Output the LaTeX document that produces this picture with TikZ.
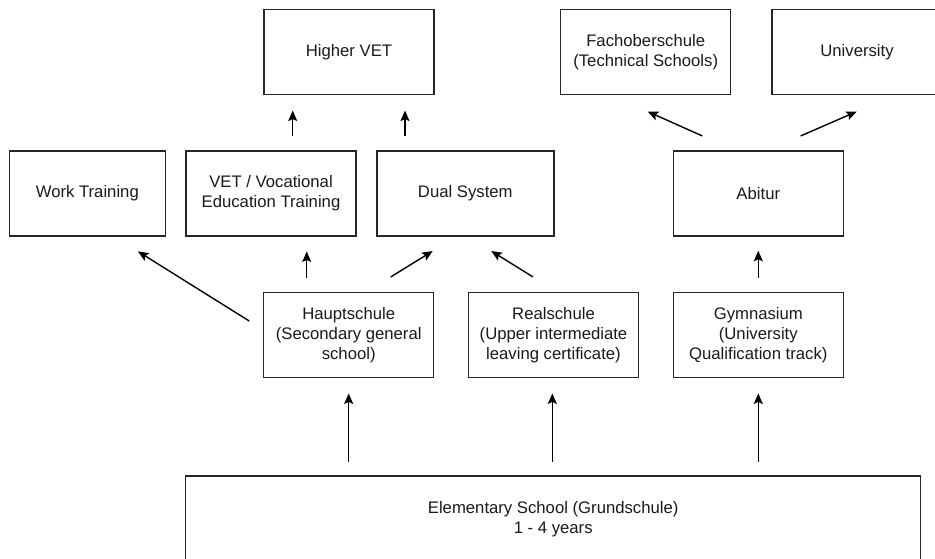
\documentclass[tikz,border=0pt]{standalone}
\usepackage{fontspec}
\setmainfont{Liberation Sans}
\usetikzlibrary{arrows.meta,calc}
\definecolor{boxline}{HTML}{262626}
\definecolor{txt}{HTML}{1A1A1A}
\tikzset{
  box/.style={draw=boxline, line width=1.5pt, rectangle, align=center, inner sep=0pt,
    minimum width=170pt, minimum height=85pt, text=txt,
    font=\fontsize{16.7pt}{20pt}\selectfont},
  arr/.style={draw=black, line width=1.4pt, -{Stealth[length=10.5pt,width=9pt,inset=2pt]}}
}
\begin{document}
\begin{tikzpicture}[x=1pt,y=-1pt]
\useasboundingbox[fill=white] (0,0) rectangle (935,559);
\begin{scope}
\clip (0,0) rectangle (935,559);
% top row
\node[box] (hvet) at (349,52) {Higher VET};
\node[box] (fach) at (645.7,52) {Fachoberschule\\(Technical Schools)};
\node[box] (uni) at (857,52) {University};
% middle row
\node[box, minimum width=156pt] (work) at (87.3,193.5) {Work Training};
\node[box] (vet) at (271,193.5) {VET / Vocational\\Education Training};
\node[box, minimum width=177pt] (dual) at (465.3,193.5) {Dual System};
\node[box] (abitur) at (758.3,193.5) {Abitur};
% secondary row
\node[box] (haupt) at (348.7,334.8) {Hauptschule\\(Secondary general\\school)};
\node[box] (real) at (553.5,334.8) {Realschule\\(Upper intermediate\\leaving certificate)};
\node[box] (gym) at (758.3,334.8) {Gymnasium\\(University\\Qualification track)};
% elementary
\node[box, minimum width=735pt, minimum height=86pt] (elem) at (553.2,519) {Elementary School (Grundschule)\\1 - 4 years};
\end{scope}
% arrows from elementary
\draw[arr] ($(elem.north)+(-204.5,-13.3)$) -- ($(haupt.south)+(0,15.4)$);
\draw[arr] ($(elem.north)+(-0.9,-13.3)$) -- ($(real.south)+(-1.2,15.4)$);
\draw[arr] ($(elem.north)+(205.1,-13.3)$) -- ($(gym.south)+(0,15.4)$);
% from Hauptschule
\draw[arr] ($(haupt.west)+(-13.7,-13.8)$) -- ($(work.south)+(50.7,14.7)$);
\draw[arr] ($(haupt.north)+(-42,-14)$) -- ($(vet.south)+(35.7,14.7)$);
\draw[arr] ($(haupt.north)+(42,-14.6)$) -- ($(dual.south)+(-32.6,14.3)$);
% from Realschule
\draw[arr] ($(real.north)+(-20.5,-14.6)$) -- ($(dual.south)+(26,14.3)$);
% from Gymnasium
\draw[arr] ($(gym.north)+(0,-14)$) -- ($(abitur.south)+(0,14)$);
% to Higher VET
\draw[arr] ($(vet.north)+(21.7,-14.3)$) -- ($(hvet.south)+(-56.3,15.3)$);
\draw[arr] ($(dual.north)+(-60.3,-14.3)$) -- ($(hvet.south)+(56,15.3)$);
% from Abitur
\draw[arr] ($(abitur.north)+(-56,-14.3)$) -- ($(fach.south)+(2,16.3)$);
\draw[arr] ($(abitur.north)+(42.4,-14.3)$) -- ($(uni.south)+(-0.3,16.3)$);
\end{tikzpicture}
\end{document}
